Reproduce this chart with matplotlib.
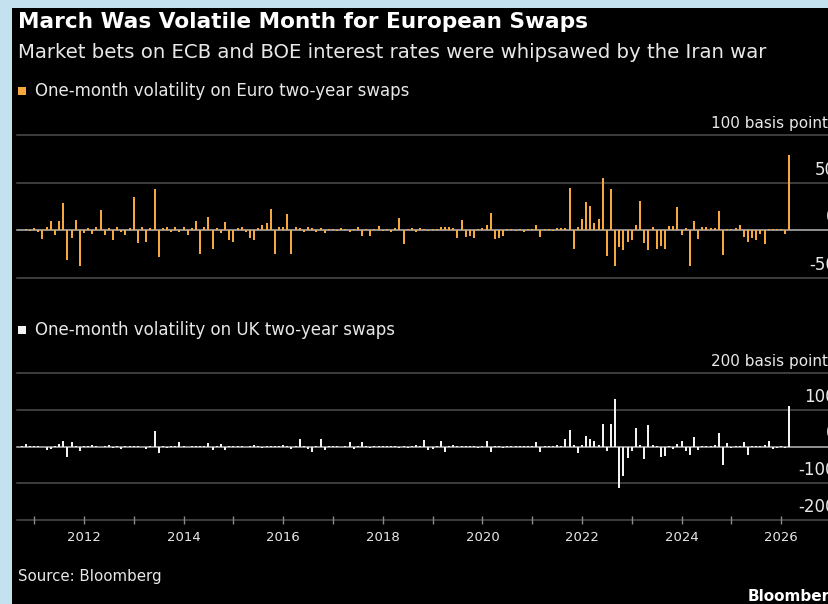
import numpy as np
import matplotlib
matplotlib.use("Agg")
import matplotlib.pyplot as plt
from matplotlib.patches import Rectangle

W, H = 829, 604

# monthly bars, Oct 2010 .. Mar 2026 (change in one-month volatility, bp)
start_year, start_month = 2010, 10
euro = [
    0, 1, -1,                                          # 2010 Oct-Dec
    2, -2, -9, 3, 10, -5, 10, 29, -31, -8, 11, -37,     # 2011
    -3, 2, -4, 3, 21, -5, 2, -10, 3, -2, -5, 2,         # 2012
    35, -13, 3, -12, 2, 43, -28, 2, 3, -2, 4, -2,       # 2013
    3, -5, 2, 10, -25, 3, 14, -20, 2, -3, 9, -10,       # 2014
    -12, 2, 3, -2, -8, -10, 2, 6, 8, 22, -25, 3,        # 2015
    3, 17, -25, 3, 2, -2, 3, 2, -2, 2, -3, 1,           # 2016
    1, -1, 2, 1, -2, 1, 4, -6, 1, -6, 1, 5,             # 2017
    -1, 1, -2, 2, 13, -14, 1, 2, -2, 2, 1, -1,          # 2018
    1, 1, 3, 4, 3, 2, -8, 11, -7, -6, -8, 1,            # 2019
    2, 6, 18, -9, -8, -6, 1, 1, -1, 1, -2, 1,           # 2020
    1, 6, -7, 1, 1, -1, 2, 2, 2, 44, -20, 3,            # 2021
    12, 30, 26, 8, 12, 55, -27, 43, -37, -17, -21, -12, # 2022
    -10, 6, 31, -13, -21, 4, -20, -16, -20, 5, 5, 24,   # 2023
    -5, 2, -37, 10, -9, 3, 3, 2, 2, 20, -26, 1,         # 2024
    1, 2, 6, -7, -12, -8, -10, -4, -14, 1, 1, 1,        # 2025
    1, -4, 79,                                         # 2026 Jan-Mar
]
uk = [
    2, 6, 1,                                           # 2010 Oct-Dec
    1, 1, -2, -9, -6, 2, 8, 16, -29, 11, 2, -13,        # 2011
    1, 2, 3, 1, -2, 1, 3, -4, 1, -6, 1, 2,              # 2012
    1, 2, -1, -6, 2, 42, -18, 2, -5, 1, 2, 13,          # 2013
    1, -1, 2, 1, 2, 2, 10, -10, 1, 6, -10, 1,           # 2014
    1, 2, 1, -1, 2, 4, 1, -5, 1, 2, 1, 2,               # 2015
    5, 1, -6, 2, 20, 1, -6, -16, 2, 20, -10, 2,         # 2016
    1, 2, -1, 1, 13, -6, 1, 11, 1, -5, 2, 1,            # 2017
    1, 2, 1, 2, -4, 1, -4, 1, 5, 2, 18, -9,             # 2018
    -8, 2, 16, -16, 1, 3, 1, 2, 1, 2, 1, -5,            # 2019
    2, 16, -16, 1, 2, -4, 1, 2, 1, 2, 1, 2,             # 2020
    1, 13, -16, 2, 1, 2, 5, 2, 20, 45, 3, -18,          # 2021
    4, 29, 20, 16, 3, 61, -11, 61, 130, -113, -79, -31, # 2022
    -12, 51, 3, -34, 58, 4, 2, -29, -25, 2, -8, 8,      # 2023
    16, -12, -22, 27, -9, 2, 1, 2, 3, 36, -50, 10,      # 2024
    -5, 2, 1, 13, -22, 2, 1, 2, 3, 16, -6, -5,          # 2025
    2, -3, 110,                                        # 2026 Jan-Mar
]
year_ticks = list(range(2011, 2027))
euro_ticks = [-50, 0, 50, 100]
uk_ticks = [-200, -100, 0, 100, 200]

orange = "#f5a83e"
bar_white = "#f2f2f2"
grid_c = "#4d4d4d"
zero_c = "#b8b8b8"
txt_c = "#e8e8e8"

t = start_year + (start_month - 1) / 12 + np.arange(len(euro)) / 12

fig = plt.figure(figsize=(W / 100, H / 100), dpi=100, facecolor="#c3e1ee")
fig.patches.append(Rectangle((12 / W, 0), 1, 1 - 8 / H, transform=fig.transFigure,
                             facecolor="black", edgecolor="none", zorder=-10))


def px(x, y):
    return x / W, 1 - y / H


def panel(top, bottom, vals, color, ticks, unit):
    ax = fig.add_axes([17 / W, 1 - bottom / H, 1 - 17 / W, (bottom - top) / H])
    ax.set_facecolor("none")
    for s in ax.spines.values():
        s.set_visible(False)
    ax.set_xlim(2010.655, 2026.96)
    ax.set_ylim(ticks[0], ticks[-1])
    for v in ticks:
        ax.axhline(v, color=zero_c if v == 0 else grid_c, lw=1.1, zorder=1, clip_on=False)
    ax.bar(t, vals, width=0.04, color=color, linewidth=0, zorder=2)
    ax.set_yticks([])
    ax.set_xticks([])
    # value labels sit above their gridlines at the right edge (cut off as in the original)
    for v in ticks[:-1]:
        ax.annotate(str(v), xy=(1.0, v), xycoords=ax.get_yaxis_transform(),
                    xytext=(5, 3), textcoords="offset points", ha="right", va="bottom",
                    color=txt_c, fontsize=12, annotation_clip=False)
    ax.annotate(unit, xy=(1.0, ticks[-1]), xycoords=ax.get_yaxis_transform(),
                xytext=(5, 3), textcoords="offset points", ha="right", va="bottom",
                color=txt_c, fontsize=11, annotation_clip=False)
    return ax


ax1 = panel(135, 278, euro, orange, euro_ticks, "100 basis points")
ax2 = panel(373, 520, uk, bar_white, uk_ticks, "200 basis points")

ax2.set_xticks(year_ticks)
ax2.set_xticklabels([str(y) if y % 2 == 0 else "" for y in year_ticks])
ax2.tick_params(axis="x", direction="inout", length=6, width=1, color="#8a8a8a",
                labelcolor=txt_c, labelsize=9.5, pad=5)

# header
fig.text(*px(18, 22), "March Was Volatile Month for European Swaps", color="white",
         fontsize=15.6, fontweight="bold", va="center", ha="left")
fig.text(*px(18, 53), "Market bets on ECB and BOE interest rates were whipsawed by the Iran war",
         color=txt_c, fontsize=14.2, va="center", ha="left")

# legends
fig.patches.append(Rectangle(px(18, 95), 8 / W, 8 / H, transform=fig.transFigure,
                             facecolor=orange, edgecolor="none"))
fig.text(*px(35, 91), "One-month volatility on Euro two-year swaps", color=txt_c,
         fontsize=12, va="center", ha="left")
fig.patches.append(Rectangle(px(18, 334), 8 / W, 8 / H, transform=fig.transFigure,
                             facecolor=bar_white, edgecolor="none"))
fig.text(*px(35, 330), "One-month volatility on UK two-year swaps", color=txt_c,
         fontsize=12, va="center", ha="left")

# footer
fig.text(*px(18, 577), "Source: Bloomberg", color=txt_c, fontsize=10.8, va="center", ha="left")
fig.text(*px(748, 597), "Bloomberg", color="white", fontsize=11, fontweight="bold",
         va="center", ha="left")

fig.savefig("out.png", dpi=100, facecolor=fig.get_facecolor())
